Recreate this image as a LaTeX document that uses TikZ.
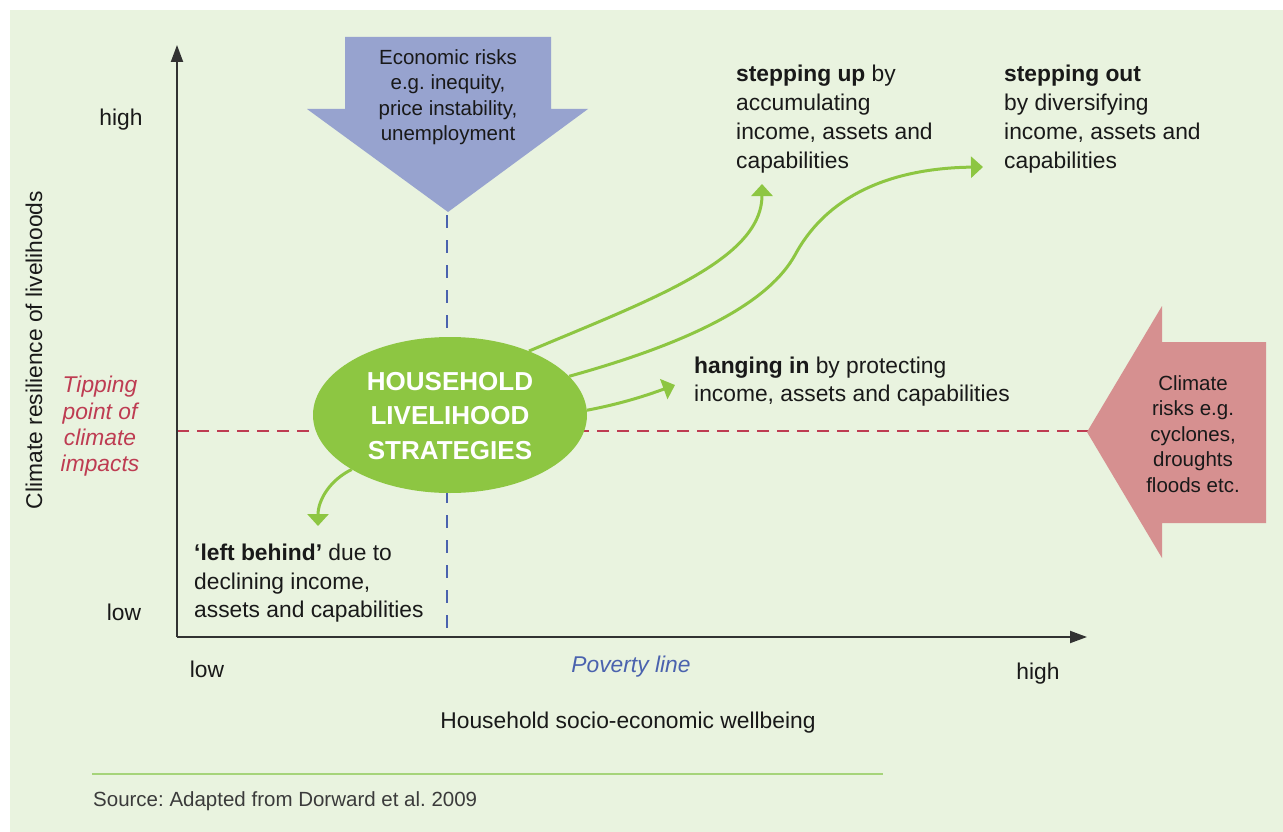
\documentclass[tikz,border=0pt]{standalone}
\usepackage{fontspec}
\setmainfont{Liberation Sans}
\usetikzlibrary{arrows.meta,shapes.geometric}
\frenchspacing

\definecolor{bgcol}{RGB}{233,243,223}
\definecolor{leaf}{RGB}{141,198,66}
\definecolor{ecoblue}{RGB}{151,163,207}
\definecolor{climred}{RGB}{214,144,144}
\definecolor{tipred}{RGB}{190,60,82}
\definecolor{povblue}{RGB}{74,98,174}
\definecolor{rulegreen}{RGB}{166,212,122}
\definecolor{txtcol}{RGB}{25,25,25}
\definecolor{axiscol}{RGB}{50,50,50}

\tikzset{
  lbl/.style={font=\fontsize{22.8}{29}\selectfont, inner sep=0pt, text=txtcol},
  blk/.style={lbl, align=left, anchor=north west},
  risktext/.style={font=\fontsize{20.5}{25.4}\selectfont, inner sep=0pt, text=txtcol, align=center, anchor=north},
  grnarrow/.style={draw=leaf, line width=3pt, -{Triangle[width=21pt,length=12pt]}},
  axisline/.style={draw=axiscol, line width=2pt, -{Triangle[width=12pt,length=17pt]}},
}

\begin{document}
\begin{tikzpicture}[x=1pt,y=-1pt]
\useasboundingbox (0,0) rectangle (1283,832);
\fill[white] (0,0) rectangle (1283,832);
\fill[bgcol] (10,10) rectangle (1283,832);

% axes origin and ends
\coordinate (origin) at (177,637);
\coordinate (ytop) at (177,45);
\coordinate (xend) at (1087,637);

% threshold lines
\coordinate (tipL) at (177,431);
\coordinate (tipR) at (1088,431);
\coordinate (povT) at (447,215);
\coordinate (povB) at (447,637);
\draw[tipred, line width=2.5pt, dash pattern=on 12pt off 8pt] (tipL) -- (tipR);
\draw[povblue, line width=2.5pt, dash pattern=on 13pt off 12pt] (povT) -- (povB);

% axes
\draw[axisline] (origin) -- (ytop);
\draw[axisline] (origin) -- (xend);

% economic risks arrow (pointing down)
\fill[ecoblue] (345,37) -- (551,37) -- (551,109) -- (588,109) -- (448,212)
  -- (307,109) -- (345,109) -- cycle;
\node[risktext] (eco) at (448,49.5) {Economic risks\\e.g. inequity,\\price instability,\\unemployment};

% climate risks arrow (pointing left)
\fill[climred] (1162,306) -- (1162,342) -- (1266,342) -- (1266,523) -- (1162,523)
  -- (1162,558) -- (1087,432) -- cycle;
\node[risktext] (clim) at (1193,375.5) {Climate\\risks e.g.\\cyclones,\\droughts\\floods etc.};

% household strategies
\node[ellipse, fill=leaf, minimum width=274pt, minimum height=156pt, inner sep=0pt] (hh) at (450,415) {};
\node[font=\fontsize{26}{34.5}\selectfont\bfseries, text=white, align=center, anchor=north, inner sep=0pt] (hhtext) at (450,372) {HOUSEHOLD\\LIVELIHOOD\\STRATEGIES};

% strategy pathways
\coordinate (upend) at (762,184);
\coordinate (outmid) at (795,255);
\coordinate (outend) at (983,167);
\coordinate (inend) at (675,385);
\coordinate (behindend) at (318,526);
\draw[grnarrow] (hh.39) .. controls (650,300) and (762,260) .. (upend);
\draw[grnarrow] (hh.18) .. controls (700,340) and (770,300) .. (outmid)
  .. controls (830,190) and (900,168) .. (outend);
\draw[grnarrow] (hh.2) .. controls (620,404) and (645,396) .. (inend);
\draw[grnarrow] (hh.-151) .. controls (330,480) and (318,500) .. (behindend);

% pathway labels
\node[blk] (up) at (736,65) {\textbf{stepping up} by\\accumulating\\income, assets and\\capabilities};
\node[blk] (out) at (1004,65) {\textbf{stepping out}\\by diversifying\\income, assets and\\capabilities};
\node[blk, font=\fontsize{22.8}{28}\selectfont] (hang) at (694,357) {\textbf{hanging in} by protecting\\income, assets and capabilities};
\node[blk, font=\fontsize{22.8}{28.5}\selectfont] (behind) at (194,544) {\textbf{‘left behind’} due to\\declining income,\\assets and capabilities};

% tipping point label
\node[lbl, font=\fontsize{22.8}{26.3}\selectfont\itshape, text=tipred, align=center, anchor=north] (tip) at (100,376) {Tipping\\point of\\climate\\impacts};

% axis labels
\node[lbl, anchor=base] (yhigh) at (121,126) {high};
\node[lbl, anchor=base] (ylow) at (124,620) {low};
\node[lbl, anchor=base] (xlow) at (207,677) {low};
\node[lbl, anchor=base] (xhigh) at (1038,679) {high};
\node[lbl, anchor=base, font=\fontsize{22.8}{29}\selectfont\itshape, text=povblue] (pov) at (631,672) {Poverty line};
\node[lbl, anchor=base] (xtitle) at (628,728) {Household socio-economic wellbeing};
\node[lbl, rotate=90] (ytitle) at (34,350) {Climate resilience of livelihoods};

% source note
\coordinate (ruleL) at (92,774);
\coordinate (ruleR) at (883,774);
\draw[rulegreen, line width=2pt] (ruleL) -- (ruleR);
\node[lbl, anchor=base west, font=\fontsize{20.5}{24}\selectfont, text=txtcol!85] (src) at (93,806) {Source: Adapted from Dorward et al. 2009};
\end{tikzpicture}
\end{document}
